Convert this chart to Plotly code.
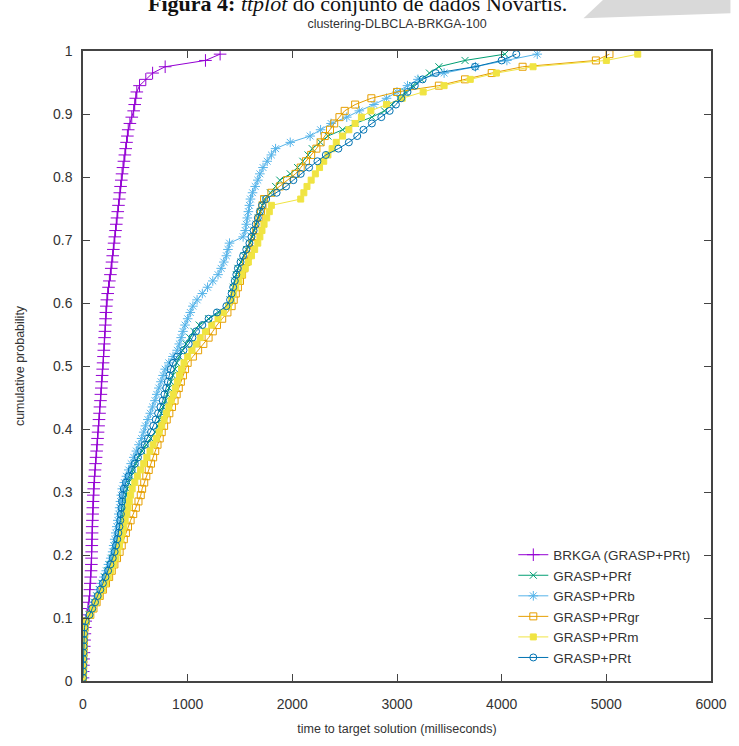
import plotly.graph_objects as go

# Cumulative probability levels (100 runs per algorithm)
PROB = [0.005, 0.015, 0.025, 0.035, 0.045, 0.055, 0.065, 0.075, 0.085, 0.095,
        0.105, 0.115, 0.125, 0.135, 0.145, 0.155, 0.165, 0.175, 0.185, 0.195,
        0.205, 0.215, 0.225, 0.235, 0.245, 0.255, 0.265, 0.275, 0.285, 0.295,
        0.305, 0.315, 0.325, 0.335, 0.345, 0.355, 0.365, 0.375, 0.385, 0.395,
        0.405, 0.415, 0.425, 0.435, 0.445, 0.455, 0.465, 0.475, 0.485, 0.495,
        0.505, 0.515, 0.525, 0.535, 0.545, 0.555, 0.565, 0.575, 0.585, 0.595,
        0.605, 0.615, 0.625, 0.635, 0.645, 0.655, 0.665, 0.675, 0.685, 0.695,
        0.705, 0.715, 0.725, 0.735, 0.745, 0.755, 0.765, 0.775, 0.785, 0.795,
        0.805, 0.815, 0.825, 0.835, 0.845, 0.855, 0.865, 0.875, 0.885, 0.895,
        0.905, 0.915, 0.925, 0.935, 0.945, 0.955, 0.965, 0.975, 0.985, 0.995]

# Time to target (ms), sorted
T_BRKGA = [0, 2, 4, 6, 9, 12, 15, 18, 22, 26,
           38, 48, 56, 62, 66, 70, 74, 77, 80, 82,
           83, 84, 86, 87, 88, 90, 92, 94, 96, 99,
           102, 106, 111, 115, 120, 125, 130, 135, 139, 144,
           149, 153, 158, 162, 167, 171, 175, 179, 183, 188,
           192, 196, 199, 203, 206, 210, 213, 216, 219, 223,
           228, 236, 244, 252, 262, 270, 277, 284, 290, 297,
           304, 311, 318, 325, 332, 339, 346, 352, 359, 366,
           373, 382, 391, 400, 408, 416, 424, 432, 448, 466,
           484, 494, 504, 514, 540, 600, 665, 785, 1170, 1310]

T_PRF = [0, 1, 2, 3, 4, 6, 8, 10, 14, 25,
         60, 85, 110, 135, 160, 185, 210, 235, 258, 280,
         302, 318, 332, 345, 357, 368, 380, 390, 400, 410,
         420, 435, 455, 480, 505, 530, 565, 605, 645, 690,
         715, 730, 748, 765, 785, 805, 822, 840, 858, 878,
         895, 920, 950, 985, 1020, 1060, 1110, 1200, 1300, 1390,
         1405, 1420, 1435, 1450, 1465, 1480, 1510, 1540, 1565, 1595,
         1615, 1635, 1655, 1675, 1695, 1715, 1735, 1790, 1840, 1880,
         1980, 2050, 2100, 2150, 2190, 2270, 2340, 2480, 2600, 2760,
         2880, 2950, 3020, 3080, 3150, 3230, 3310, 3400, 3650, 4030]

T_PRB = [0, 1, 2, 3, 4, 6, 8, 10, 14, 25,
         58, 80, 105, 130, 155, 180, 200, 222, 243, 265,
         283, 293, 303, 313, 323, 333, 342, 350, 358, 366,
         375, 395, 415, 437, 460, 485, 510, 535, 560, 580,
         597, 620, 643, 665, 688, 705, 725, 745, 765, 785,
         820, 860, 900, 920, 938, 955, 975, 1000, 1025, 1050,
         1090, 1140, 1190, 1240, 1290, 1320, 1345, 1370, 1385, 1400,
         1530, 1550, 1560, 1570, 1580, 1590, 1600, 1620, 1645, 1670,
         1690, 1720, 1760, 1800, 1840, 1980, 2170, 2270, 2370, 2520,
         2640, 2780, 2900, 3000, 3100, 3200, 3450, 3750, 4050, 4340]

T_PRGR = [0, 1, 2, 3, 5, 7, 9, 12, 16, 28,
          70, 100, 130, 160, 190, 220, 250, 275, 300, 325,
          350, 370, 390, 410, 430, 455, 480, 505, 530, 552,
          565, 585, 605, 628, 650, 670, 690, 712, 733, 752,
          775, 800, 825, 850, 875, 895, 915, 935, 955, 975,
          1000, 1050, 1100, 1150, 1200, 1240, 1280, 1330, 1380, 1420,
          1440, 1460, 1480, 1500, 1520, 1540, 1560, 1580, 1600, 1620,
          1640, 1655, 1670, 1685, 1700, 1715, 1730, 1800, 1880, 1950,
          2030, 2080, 2130, 2180, 2230, 2270, 2310, 2360, 2400, 2450,
          2500, 2600, 2755, 3000, 3400, 3650, 3905, 4200, 4900, 5030]

T_PRM = [0, 1, 2, 3, 5, 7, 9, 12, 16, 28,
         68, 95, 125, 155, 185, 215, 242, 268, 292, 315,
         332, 348, 362, 376, 390, 403, 416, 430, 442, 455,
         470, 495, 520, 550, 580, 610, 640, 670, 700, 728,
         752, 775, 798, 820, 842, 862, 882, 902, 922, 942,
         965, 1000, 1040, 1080, 1120, 1170, 1230, 1290, 1340, 1390,
         1420, 1440, 1460, 1490, 1520, 1550, 1580, 1610, 1640, 1670,
         1690, 1710, 1730, 1755, 1780, 1800, 2080, 2110, 2140, 2180,
         2220, 2260, 2300, 2340, 2380, 2420, 2480, 2540, 2600, 2660,
         2750, 2900, 3050, 3250, 3450, 3700, 3950, 4300, 5000, 5300]

T_PRT = [0, 1, 2, 3, 4, 6, 8, 10, 14, 25,
         62, 88, 115, 140, 165, 190, 215, 240, 262, 284,
         302, 315, 327, 338, 348, 356, 362, 368, 373, 378,
         390, 410, 435, 465, 495, 525, 555, 590, 620, 650,
         672, 695, 718, 740, 762, 778, 795, 810, 825, 838,
         860, 900, 960, 1010, 1045, 1080, 1140, 1200, 1280, 1370,
         1405, 1420, 1435, 1450, 1465, 1480, 1505, 1530, 1560, 1590,
         1610, 1630, 1650, 1670, 1690, 1710, 1750, 1850, 1940, 2010,
         2080, 2160, 2240, 2320, 2440, 2540, 2620, 2680, 2760, 2850,
         2930, 2990, 3040, 3100, 3170, 3245, 3370, 3745, 4000, 4140]

NAMES = ["BRKGA (GRASP+PRt)", "GRASP+PRf", "GRASP+PRb", "GRASP+PRgr", "GRASP+PRm", "GRASP+PRt"]
SERIES = [T_BRKGA, T_PRF, T_PRB, T_PRGR, T_PRM, T_PRT]
COLORS = ["#9400d3", "#009e73", "#56b4e9", "#e69f00", "#f0e442", "#0072b2"]
SYMBOLS = ["cross-thin-open", "x-thin-open", "asterisk-open", "square-open", "square", "circle-open"]
SIZES = [9, 7, 8, 7, 6, 7]

TITLE = "clustering-DLBCLA-BRKGA-100"
XLABEL = "time to target solution (milliseconds)"
YLABEL = "cumulative probability"
CAPTION = "<b>Figura 4:</b> <i>ttplot</i> do conjunto de dados Novartis."

FONT = "Liberation Sans, Arial, sans-serif"

fig = go.Figure()
for name, t, c, s, sz in zip(NAMES, SERIES, COLORS, SYMBOLS, SIZES):
    fig.add_trace(go.Scatter(
        x=t, y=PROB, name=name, mode="lines+markers",
        line=dict(color=c, width=1),
        marker=dict(symbol=s, size=sz, color=c, line=dict(color=c, width=1)),
    ))

axis_common = dict(
    showline=True, linecolor="#444", linewidth=1.5, mirror="allticks",
    ticks="inside", ticklen=7, tickwidth=1, tickcolor="#444",
    showgrid=False, zeroline=False,
    tickfont=dict(family=FONT, size=14, color="#333"),
)

fig.update_xaxes(range=[0, 6000], dtick=1000, tick0=0, ticklabelstandoff=9,
                 title=dict(text=XLABEL, standoff=14,
                            font=dict(family=FONT, size=12.5, color="#333")),
                 **axis_common)
fig.update_yaxes(range=[0, 1], dtick=0.1, tick0=0, ticklabelstandoff=6,
                 title=dict(text=YLABEL, standoff=26,
                            font=dict(family=FONT, size=12.5, color="#333")),
                 **axis_common)

fig.update_layout(
    width=739, height=746,
    margin=dict(l=83, r=20, t=51, b=54),
    paper_bgcolor="white", plot_bgcolor="white",
    title=dict(text=TITLE, xref="paper", x=0.5, xanchor="center", y=0.968, yanchor="middle",
               font=dict(family=FONT, size=12.5, color="#333")),
    legend=dict(x=0.975, xanchor="right", y=0.012, yanchor="bottom",
                bgcolor="rgba(0,0,0,0)", borderwidth=0,
                font=dict(family=FONT, size=13.5, color="#333"),
                tracegroupgap=0),
    showlegend=True,
)

# Caption of the source page, cropped at the very top as in the reference
fig.add_annotation(text=CAPTION, xref="paper", yref="paper", x=0.10, y=1.0,
                   xanchor="left", yanchor="bottom", yshift=33, showarrow=False,
                   font=dict(family="Liberation Serif, Times New Roman, serif", size=22, color="#111"))
# Grey page-corner decoration at top right
fig.add_shape(type="path", xref="paper", yref="paper",
              path="M 0.797 1.052 L 0.828 1.081 L 1.031 1.081 L 1.031 1.060 Z",
              fillcolor="#d9d9d9", line=dict(width=0), layer="below")

fig.write_html(
    "out.html", config={"displayModeBar": False},
    post_script=("document.documentElement.style.margin='0';"
                 "document.documentElement.style.padding='0';"
                 "document.documentElement.style.overflow='hidden';"
                 "document.body.style.margin='0';"
                 "document.body.style.padding='0';"
                 "document.body.style.overflow='hidden';"),
)
